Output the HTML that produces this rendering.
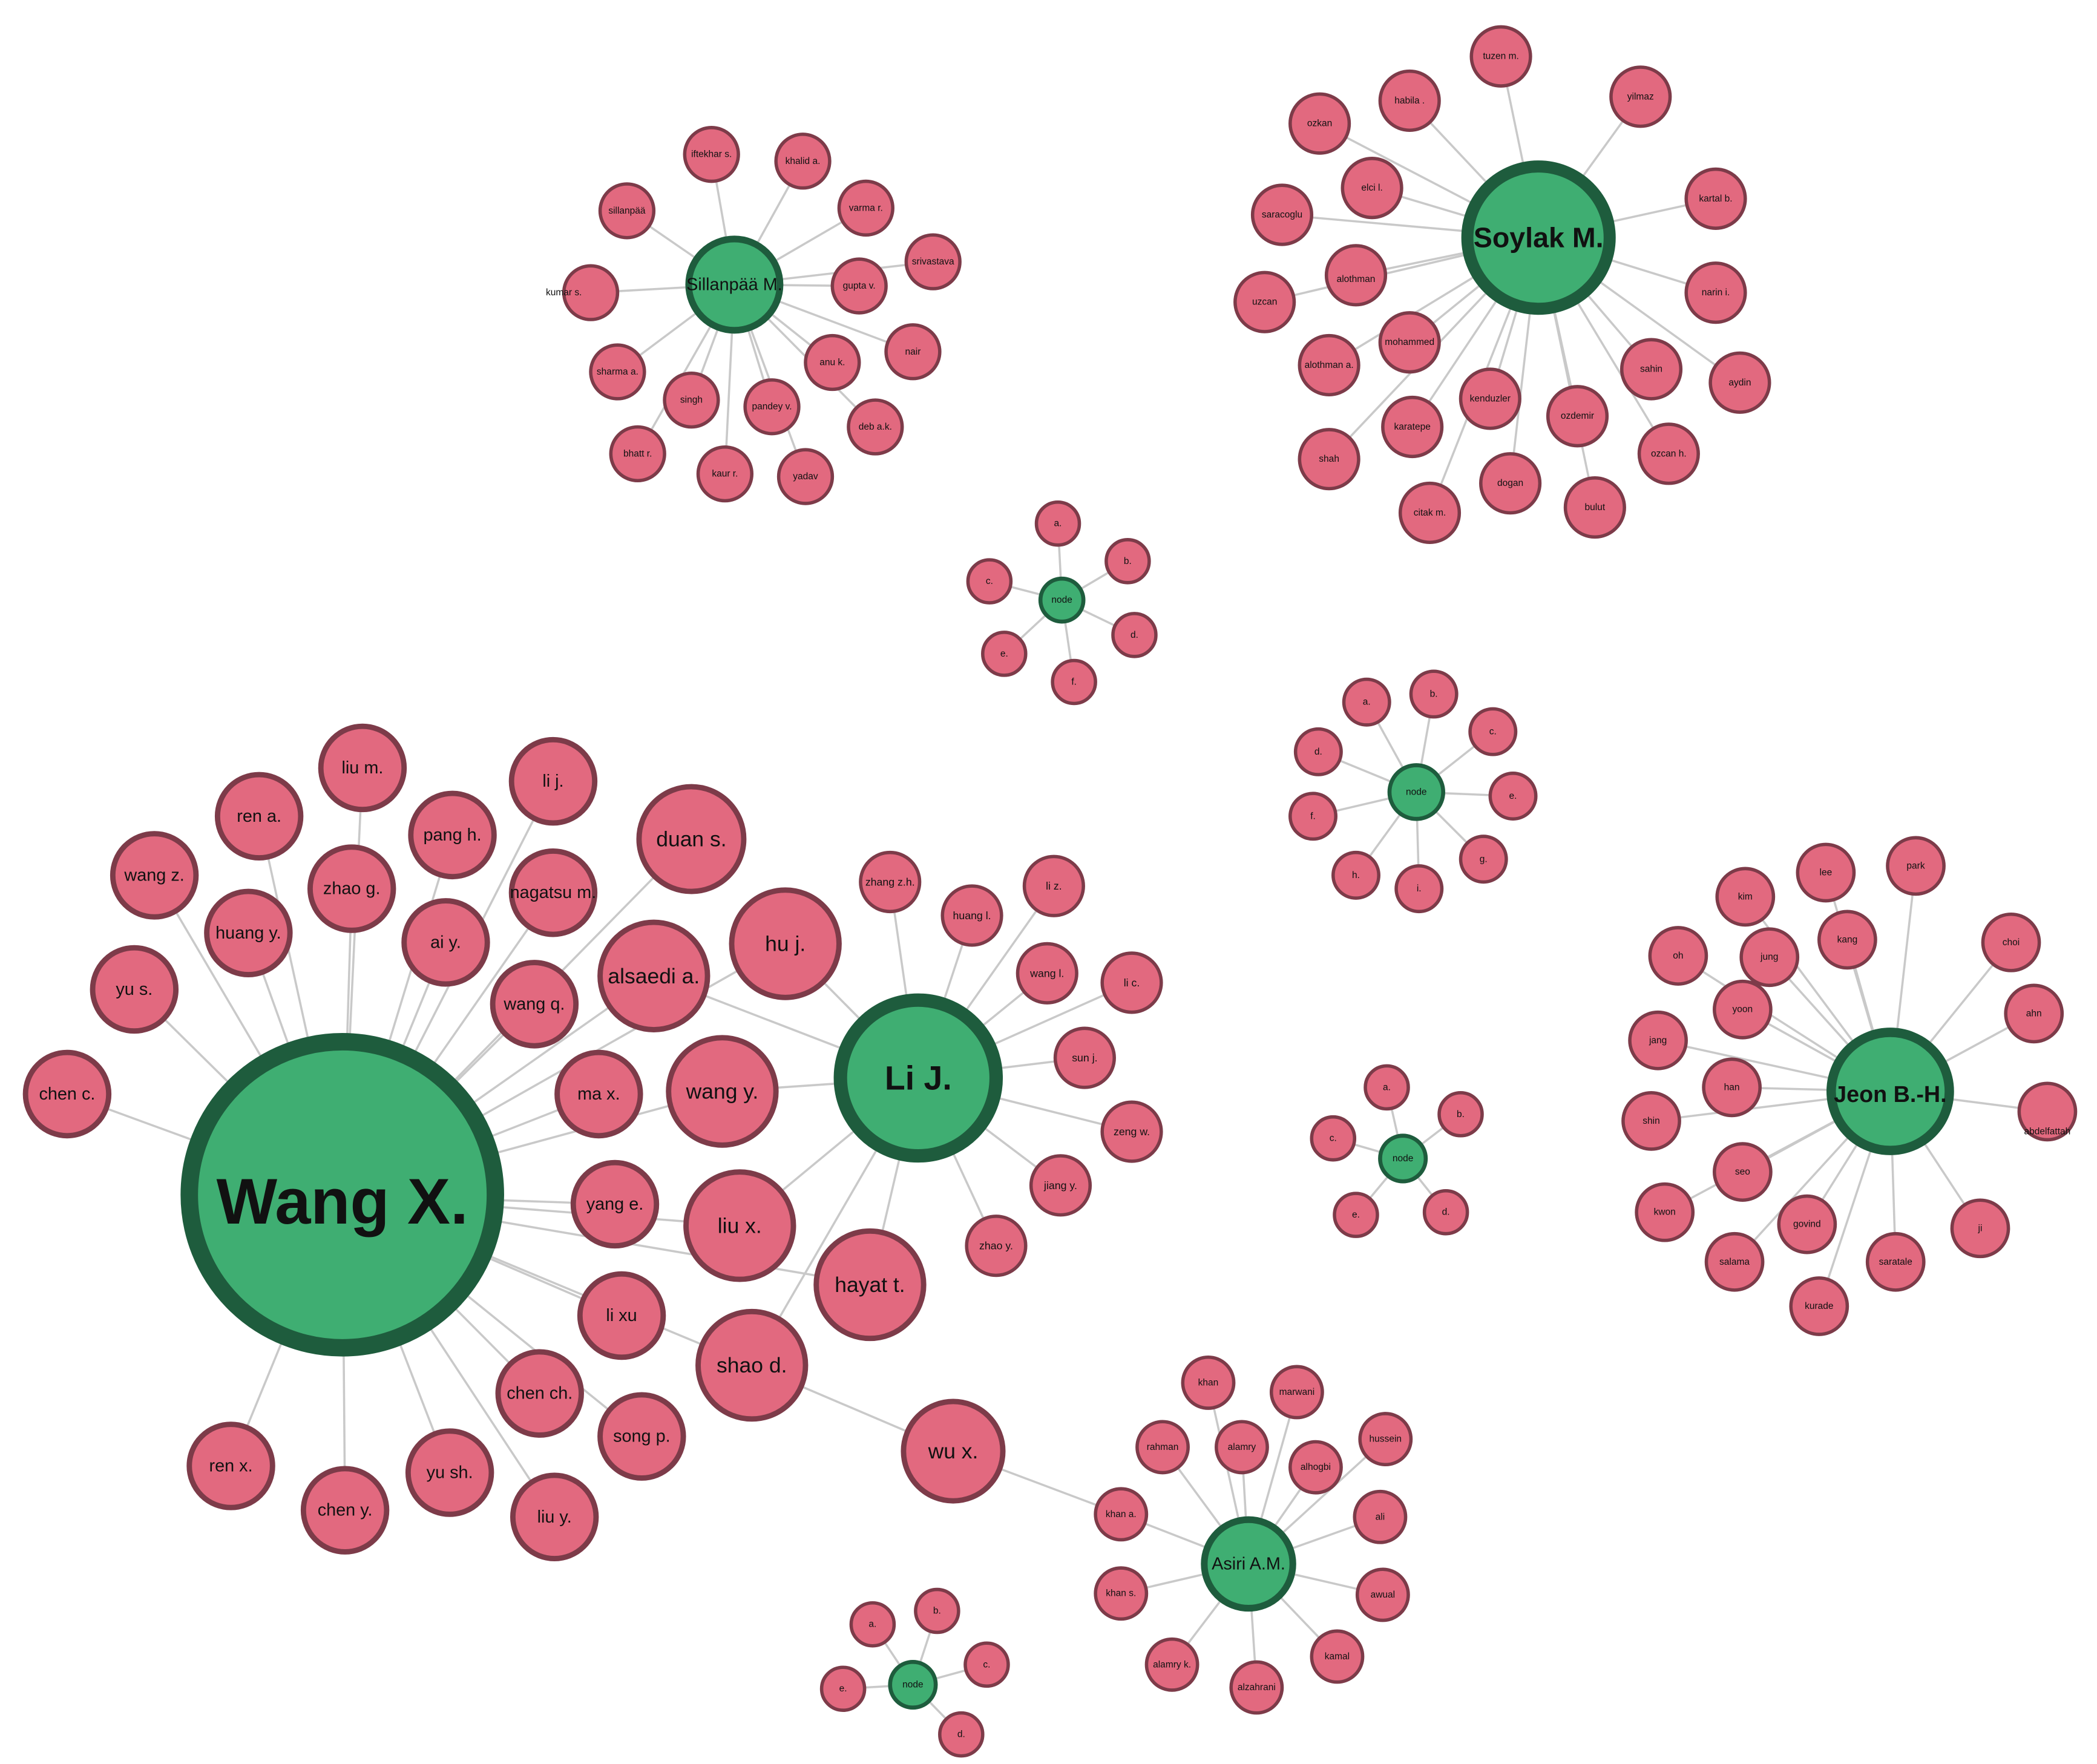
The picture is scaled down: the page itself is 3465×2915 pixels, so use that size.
<!DOCTYPE html>
<html><head><meta charset="utf-8"><style>
html,body{margin:0;padding:0;background:#fff}
svg{display:block}
text{font-family:"Liberation Sans",sans-serif;text-anchor:middle;dominant-baseline:central;fill:#111}
.e{stroke:#c9c9c9;stroke-width:1.6}
.p{fill:#e2697f;stroke:#7d3b49;stroke-width:2.5}
.P{fill:#e2697f;stroke:#7d3b49;stroke-width:4}
.g{fill:#3fae72;stroke:#1e5c3d}
.s{font-size:7px}
.m{font-size:13px}
</style></head><body>
<svg width="3465" height="2915" viewBox="0 0 1562 1314" xmlns="http://www.w3.org/2000/svg">
<g class="e">
<!-- Wang X edges -->
<line x1="255" y1="890" x2="50" y2="815"/><line x1="255" y1="890" x2="100" y2="737"/><line x1="255" y1="890" x2="115" y2="652"/><line x1="255" y1="890" x2="193" y2="608"/><line x1="255" y1="890" x2="270" y2="572"/><line x1="255" y1="890" x2="185" y2="695"/><line x1="255" y1="890" x2="262" y2="662"/><line x1="255" y1="890" x2="337" y2="622"/><line x1="255" y1="890" x2="412" y2="582"/><line x1="255" y1="890" x2="332" y2="702"/><line x1="255" y1="890" x2="412" y2="665"/><line x1="255" y1="890" x2="398" y2="748"/><line x1="255" y1="890" x2="515" y2="625"/><line x1="255" y1="890" x2="585" y2="703"/><line x1="255" y1="890" x2="487" y2="727"/><line x1="255" y1="890" x2="446" y2="815"/><line x1="255" y1="890" x2="538" y2="813"/><line x1="255" y1="890" x2="458" y2="897"/><line x1="255" y1="890" x2="551" y2="913"/><line x1="255" y1="890" x2="648" y2="957"/><line x1="255" y1="890" x2="463" y2="980"/><line x1="255" y1="890" x2="560" y2="1017"/><line x1="255" y1="890" x2="402" y2="1038"/><line x1="255" y1="890" x2="478" y2="1070"/><line x1="255" y1="890" x2="172" y2="1092"/><line x1="255" y1="890" x2="257" y2="1125"/><line x1="255" y1="890" x2="335" y2="1097"/><line x1="255" y1="890" x2="413" y2="1130"/>
<!-- Li J -->
<line x1="684" y1="803" x2="585" y2="703"/><line x1="684" y1="803" x2="487" y2="727"/><line x1="684" y1="803" x2="538" y2="813"/><line x1="684" y1="803" x2="551" y2="913"/><line x1="684" y1="803" x2="648" y2="957"/><line x1="684" y1="803" x2="560" y2="1017"/>
<line x1="684" y1="803" x2="663" y2="657"/><line x1="684" y1="803" x2="724" y2="682"/><line x1="684" y1="803" x2="785" y2="660"/><line x1="684" y1="803" x2="780" y2="725"/><line x1="684" y1="803" x2="843" y2="732"/><line x1="684" y1="803" x2="808" y2="788"/><line x1="684" y1="803" x2="843" y2="843"/><line x1="684" y1="803" x2="790" y2="883"/><line x1="684" y1="803" x2="742" y2="928"/>
<line x1="560" y1="1017" x2="710" y2="1081"/><line x1="710" y1="1081" x2="835" y2="1128"/>
<!-- Asiri -->
<line x1="930" y1="1165" x2="900" y2="1030"/><line x1="930" y1="1165" x2="966" y2="1037"/><line x1="930" y1="1165" x2="925" y2="1078"/><line x1="930" y1="1165" x2="866" y2="1078"/><line x1="930" y1="1165" x2="980" y2="1093"/><line x1="930" y1="1165" x2="1032" y2="1072"/><line x1="930" y1="1165" x2="1028" y2="1130"/><line x1="930" y1="1165" x2="1030" y2="1188"/><line x1="930" y1="1165" x2="996" y2="1234"/><line x1="930" y1="1165" x2="936" y2="1257"/><line x1="930" y1="1165" x2="873" y2="1240"/><line x1="930" y1="1165" x2="835" y2="1187"/><line x1="930" y1="1165" x2="835" y2="1128"/>
<!-- bottom small -->
<line x1="680" y1="1255" x2="650" y2="1210"/><line x1="680" y1="1255" x2="698" y2="1200"/><line x1="680" y1="1255" x2="735" y2="1240"/><line x1="680" y1="1255" x2="716" y2="1292"/><line x1="680" y1="1255" x2="628" y2="1258"/>
<!-- Sillanpaa -->
<line x1="547" y1="212" x2="530" y2="115"/><line x1="547" y1="212" x2="598" y2="120"/><line x1="547" y1="212" x2="467" y2="157"/><line x1="547" y1="212" x2="645" y2="155"/><line x1="547" y1="212" x2="695" y2="195"/><line x1="547" y1="212" x2="440" y2="218"/><line x1="547" y1="212" x2="640" y2="213"/><line x1="547" y1="212" x2="680" y2="262"/><line x1="547" y1="212" x2="460" y2="277"/><line x1="547" y1="212" x2="620" y2="270"/><line x1="547" y1="212" x2="515" y2="298"/><line x1="547" y1="212" x2="575" y2="303"/><line x1="547" y1="212" x2="652" y2="318"/><line x1="547" y1="212" x2="475" y2="338"/><line x1="547" y1="212" x2="540" y2="353"/><line x1="547" y1="212" x2="600" y2="355"/>
<!-- Soylak -->
<line x1="1146" y1="177" x2="1118" y2="42"/><line x1="1146" y1="177" x2="1222" y2="72"/><line x1="1146" y1="177" x2="1050" y2="75"/><line x1="1146" y1="177" x2="983" y2="92"/><line x1="1146" y1="177" x2="1022" y2="140"/><line x1="1146" y1="177" x2="1278" y2="148"/><line x1="1146" y1="177" x2="955" y2="160"/><line x1="1146" y1="177" x2="1278" y2="218"/><line x1="1146" y1="177" x2="942" y2="225"/><line x1="1146" y1="177" x2="1010" y2="205"/><line x1="1146" y1="177" x2="1050" y2="255"/><line x1="1146" y1="177" x2="990" y2="272"/><line x1="1146" y1="177" x2="1110" y2="297"/><line x1="1146" y1="177" x2="1175" y2="310"/><line x1="1146" y1="177" x2="1230" y2="275"/><line x1="1146" y1="177" x2="1296" y2="285"/><line x1="1146" y1="177" x2="990" y2="342"/><line x1="1146" y1="177" x2="1052" y2="318"/><line x1="1146" y1="177" x2="1125" y2="360"/><line x1="1146" y1="177" x2="1188" y2="378"/><line x1="1146" y1="177" x2="1065" y2="382"/><line x1="1146" y1="177" x2="1243" y2="338"/>
<!-- small clusters -->
<line x1="791" y1="447" x2="788" y2="390"/><line x1="791" y1="447" x2="840" y2="418"/><line x1="791" y1="447" x2="737" y2="433"/><line x1="791" y1="447" x2="845" y2="473"/><line x1="791" y1="447" x2="748" y2="487"/><line x1="791" y1="447" x2="800" y2="508"/>
<line x1="1055" y1="590" x2="1018" y2="523"/><line x1="1055" y1="590" x2="1068" y2="517"/><line x1="1055" y1="590" x2="1112" y2="545"/><line x1="1055" y1="590" x2="982" y2="560"/><line x1="1055" y1="590" x2="1127" y2="593"/><line x1="1055" y1="590" x2="978" y2="608"/><line x1="1055" y1="590" x2="1105" y2="640"/><line x1="1055" y1="590" x2="1010" y2="652"/><line x1="1055" y1="590" x2="1057" y2="662"/>
<line x1="1045" y1="863" x2="1033" y2="810"/><line x1="1045" y1="863" x2="1088" y2="830"/><line x1="1045" y1="863" x2="993" y2="848"/><line x1="1045" y1="863" x2="1077" y2="903"/><line x1="1045" y1="863" x2="1010" y2="905"/>
<!-- Jeon -->
<line x1="1408" y1="813" x2="1300" y2="668"/><line x1="1408" y1="813" x2="1360" y2="650"/><line x1="1408" y1="813" x2="1427" y2="645"/><line x1="1408" y1="813" x2="1498" y2="702"/><line x1="1408" y1="813" x2="1250" y2="712"/><line x1="1408" y1="813" x2="1318" y2="713"/><line x1="1408" y1="813" x2="1376" y2="700"/><line x1="1408" y1="813" x2="1298" y2="752"/><line x1="1408" y1="813" x2="1235" y2="775"/><line x1="1408" y1="813" x2="1290" y2="810"/><line x1="1408" y1="813" x2="1230" y2="835"/><line x1="1408" y1="813" x2="1298" y2="873"/><line x1="1408" y1="813" x2="1240" y2="903"/><line x1="1408" y1="813" x2="1346" y2="912"/><line x1="1408" y1="813" x2="1292" y2="940"/><line x1="1408" y1="813" x2="1355" y2="973"/><line x1="1408" y1="813" x2="1412" y2="940"/><line x1="1408" y1="813" x2="1475" y2="915"/><line x1="1408" y1="813" x2="1515" y2="755"/><line x1="1408" y1="813" x2="1525" y2="828"/>
</g>

<!-- Wang X cluster pink nodes -->
<g class="m">
<circle class="P" cx="50" cy="815" r="31"/><text x="50" y="815">chen c.</text>
<circle class="P" cx="100" cy="737" r="31"/><text x="100" y="737">yu s.</text>
<circle class="P" cx="115" cy="652" r="31"/><text x="115" y="652">wang z.</text>
<circle class="P" cx="193" cy="608" r="31"/><text x="193" y="608">ren a.</text>
<circle class="P" cx="270" cy="572" r="31"/><text x="270" y="572">liu m.</text>
<circle class="P" cx="185" cy="695" r="31"/><text x="185" y="695">huang y.</text>
<circle class="P" cx="262" cy="662" r="31"/><text x="262" y="662">zhao g.</text>
<circle class="P" cx="337" cy="622" r="31"/><text x="337" y="622">pang h.</text>
<circle class="P" cx="412" cy="582" r="31"/><text x="412" y="582">li j.</text>
<circle class="P" cx="332" cy="702" r="31"/><text x="332" y="702">ai y.</text>
<circle class="P" cx="412" cy="665" r="31"/><text x="412" y="665">nagatsu m.</text>
<circle class="P" cx="398" cy="748" r="31"/><text x="398" y="748">wang q.</text>
<circle class="P" cx="446" cy="815" r="31"/><text x="446" y="815">ma x.</text>
<circle class="P" cx="458" cy="897" r="31"/><text x="458" y="897">yang e.</text>
<circle class="P" cx="463" cy="980" r="31"/><text x="463" y="980">li xu</text>
<circle class="P" cx="402" cy="1038" r="31"/><text x="402" y="1038">chen ch.</text>
<circle class="P" cx="478" cy="1070" r="31"/><text x="478" y="1070">song p.</text>
<circle class="P" cx="172" cy="1092" r="31"/><text x="172" y="1092">ren x.</text>
<circle class="P" cx="257" cy="1125" r="31"/><text x="257" y="1125">chen y.</text>
<circle class="P" cx="335" cy="1097" r="31"/><text x="335" y="1097">yu sh.</text>
<circle class="P" cx="413" cy="1130" r="31"/><text x="413" y="1130">liu y.</text>
</g>
<g style="font-size:16px">
<circle class="P" cx="515" cy="625" r="39"/><text x="515" y="625">duan s.</text>
<circle class="P" cx="585" cy="703" r="40"/><text x="585" y="703">hu j.</text>
<circle class="P" cx="487" cy="727" r="40"/><text x="487" y="727">alsaedi a.</text>
<circle class="P" cx="538" cy="813" r="40"/><text x="538" y="813">wang y.</text>
<circle class="P" cx="551" cy="913" r="40"/><text x="551" y="913">liu x.</text>
<circle class="P" cx="648" cy="957" r="40"/><text x="648" y="957">hayat t.</text>
<circle class="P" cx="560" cy="1017" r="40"/><text x="560" y="1017">shao d.</text>
<circle class="P" cx="710" cy="1081" r="37"/><text x="710" y="1081">wu x.</text>
</g>
<circle class="g" cx="255" cy="890" r="114" stroke-width="13"/>
<text x="255" y="895" style="font-size:48px;font-weight:bold">Wang X.</text>
<circle class="g" cx="684" cy="803" r="58" stroke-width="10"/>
<text x="684" y="803" style="font-size:25px;font-weight:bold">Li J.</text>

<g style="font-size:8px">
<circle class="p" cx="663" cy="657" r="22"/><text x="663" y="657">zhang z.h.</text>
<circle class="p" cx="724" cy="682" r="22"/><text x="724" y="682">huang l.</text>
<circle class="p" cx="785" cy="660" r="22"/><text x="785" y="660">li z.</text>
<circle class="p" cx="780" cy="725" r="22"/><text x="780" y="725">wang l.</text>
<circle class="p" cx="843" cy="732" r="22"/><text x="843" y="732">li c.</text>
<circle class="p" cx="808" cy="788" r="22"/><text x="808" y="788">sun j.</text>
<circle class="p" cx="843" cy="843" r="22"/><text x="843" y="843">zeng w.</text>
<circle class="p" cx="790" cy="883" r="22"/><text x="790" y="883">jiang y.</text>
<circle class="p" cx="742" cy="928" r="22"/><text x="742" y="928">zhao y.</text>
</g>

<!-- Asiri -->
<g class="s">
<circle class="p" cx="900" cy="1030" r="19"/><text x="900" y="1030">khan</text>
<circle class="p" cx="966" cy="1037" r="19"/><text x="966" y="1037">marwani</text>
<circle class="p" cx="925" cy="1078" r="19"/><text x="925" y="1078">alamry</text>
<circle class="p" cx="866" cy="1078" r="19"/><text x="866" y="1078">rahman</text>
<circle class="p" cx="980" cy="1093" r="19"/><text x="980" y="1093">alhogbi</text>
<circle class="p" cx="1032" cy="1072" r="19"/><text x="1032" y="1072">hussein</text>
<circle class="p" cx="1028" cy="1130" r="19"/><text x="1028" y="1130">ali</text>
<circle class="p" cx="1030" cy="1188" r="19"/><text x="1030" y="1188">awual</text>
<circle class="p" cx="996" cy="1234" r="19"/><text x="996" y="1234">kamal</text>
<circle class="p" cx="936" cy="1257" r="19"/><text x="936" y="1257">alzahrani</text>
<circle class="p" cx="873" cy="1240" r="19"/><text x="873" y="1240">alamry k.</text>
<circle class="p" cx="835" cy="1187" r="19"/><text x="835" y="1187">khan s.</text>
<circle class="p" cx="835" cy="1128" r="19"/><text x="835" y="1128">khan a.</text>
</g>
<circle class="g" cx="930" cy="1165" r="33" stroke-width="5"/>
<text x="930" y="1165" style="font-size:13px">Asiri A.M.</text>

<!-- bottom small -->
<g class="s">
<circle class="p" cx="650" cy="1210" r="16"/><text x="650" y="1210">a.</text>
<circle class="p" cx="698" cy="1200" r="16"/><text x="698" y="1200">b.</text>
<circle class="p" cx="735" cy="1240" r="16"/><text x="735" y="1240">c.</text>
<circle class="p" cx="716" cy="1292" r="16"/><text x="716" y="1292">d.</text>
<circle class="p" cx="628" cy="1258" r="16"/><text x="628" y="1258">e.</text>
<circle class="g" cx="680" cy="1255" r="17" stroke-width="3"/><text x="680" y="1255">node</text>
</g>

<!-- Sillanpaa -->
<g class="s">
<circle class="p" cx="530" cy="115" r="20"/><text x="530" y="115">iftekhar s.</text>
<circle class="p" cx="598" cy="120" r="20"/><text x="598" y="120">khalid a.</text>
<circle class="p" cx="467" cy="157" r="20"/><text x="467" y="157">sillanpää</text>
<circle class="p" cx="645" cy="155" r="20"/><text x="645" y="155">varma r.</text>
<circle class="p" cx="695" cy="195" r="20"/><text x="695" y="195">srivastava</text>
<circle class="p" cx="440" cy="218" r="20"/><text x="420" y="218">kumar s.</text>
<circle class="p" cx="640" cy="213" r="20"/><text x="640" y="213">gupta v.</text>
<circle class="p" cx="680" cy="262" r="20"/><text x="680" y="262">nair</text>
<circle class="p" cx="460" cy="277" r="20"/><text x="460" y="277">sharma a.</text>
<circle class="p" cx="620" cy="270" r="20"/><text x="620" y="270">anu k.</text>
<circle class="p" cx="515" cy="298" r="20"/><text x="515" y="298">singh</text>
<circle class="p" cx="575" cy="303" r="20"/><text x="575" y="303">pandey v.</text>
<circle class="p" cx="652" cy="318" r="20"/><text x="652" y="318">deb a.k.</text>
<circle class="p" cx="475" cy="338" r="20"/><text x="475" y="338">bhatt r.</text>
<circle class="p" cx="540" cy="353" r="20"/><text x="540" y="353">kaur r.</text>
<circle class="p" cx="600" cy="355" r="20"/><text x="600" y="355">yadav</text>
</g>
<circle class="g" cx="547" cy="212" r="34" stroke-width="5"/>
<text x="547" y="212" style="font-size:13px">Sillanpää M.</text>

<!-- Soylak -->
<g class="s">
<circle class="p" cx="1118" cy="42" r="22"/><text x="1118" y="42">tuzen m.</text>
<circle class="p" cx="1222" cy="72" r="22"/><text x="1222" y="72">yilmaz</text>
<circle class="p" cx="1050" cy="75" r="22"/><text x="1050" y="75">habila .</text>
<circle class="p" cx="983" cy="92" r="22"/><text x="983" y="92">ozkan</text>
<circle class="p" cx="1022" cy="140" r="22"/><text x="1022" y="140">elci l.</text>
<circle class="p" cx="1278" cy="148" r="22"/><text x="1278" y="148">kartal b.</text>
<circle class="p" cx="955" cy="160" r="22"/><text x="955" y="160">saracoglu</text>
<circle class="p" cx="1278" cy="218" r="22"/><text x="1278" y="218">narin i.</text>
<circle class="p" cx="942" cy="225" r="22"/><text x="942" y="225">uzcan</text>
<circle class="p" cx="1010" cy="205" r="22"/><text x="1010" y="208">alothman</text>
<circle class="p" cx="1050" cy="255" r="22"/><text x="1050" y="255">mohammed</text>
<circle class="p" cx="990" cy="272" r="22"/><text x="990" y="272">alothman a.</text>
<circle class="p" cx="1110" cy="297" r="22"/><text x="1110" y="297">kenduzler</text>
<circle class="p" cx="1175" cy="310" r="22"/><text x="1175" y="310">ozdemir</text>
<circle class="p" cx="1230" cy="275" r="22"/><text x="1230" y="275">sahin</text>
<circle class="p" cx="1296" cy="285" r="22"/><text x="1296" y="285">aydin</text>
<circle class="p" cx="990" cy="342" r="22"/><text x="990" y="342">shah</text>
<circle class="p" cx="1052" cy="318" r="22"/><text x="1052" y="318">karatepe</text>
<circle class="p" cx="1125" cy="360" r="22"/><text x="1125" y="360">dogan</text>
<circle class="p" cx="1188" cy="378" r="22"/><text x="1188" y="378">bulut</text>
<circle class="p" cx="1065" cy="382" r="22"/><text x="1065" y="382">citak m.</text>
<circle class="p" cx="1243" cy="338" r="22"/><text x="1243" y="338">ozcan h.</text>
</g>
<circle class="g" cx="1146" cy="177" r="53" stroke-width="9"/>
<text x="1146" y="177" style="font-size:21px;font-weight:bold">Soylak M.</text>

<!-- small clusters -->
<g class="s">
<circle class="p" cx="788" cy="390" r="16"/><text x="788" y="390">a.</text>
<circle class="p" cx="840" cy="418" r="16"/><text x="840" y="418">b.</text>
<circle class="p" cx="737" cy="433" r="16"/><text x="737" y="433">c.</text>
<circle class="p" cx="845" cy="473" r="16"/><text x="845" y="473">d.</text>
<circle class="p" cx="748" cy="487" r="16"/><text x="748" y="487">e.</text>
<circle class="p" cx="800" cy="508" r="16"/><text x="800" y="508">f.</text>
<circle class="g" cx="791" cy="447" r="16" stroke-width="3"/><text x="791" y="447">node</text>

<circle class="p" cx="1018" cy="523" r="17"/><text x="1018" y="523">a.</text>
<circle class="p" cx="1068" cy="517" r="17"/><text x="1068" y="517">b.</text>
<circle class="p" cx="1112" cy="545" r="17"/><text x="1112" y="545">c.</text>
<circle class="p" cx="982" cy="560" r="17"/><text x="982" y="560">d.</text>
<circle class="p" cx="1127" cy="593" r="17"/><text x="1127" y="593">e.</text>
<circle class="p" cx="978" cy="608" r="17"/><text x="978" y="608">f.</text>
<circle class="p" cx="1105" cy="640" r="17"/><text x="1105" y="640">g.</text>
<circle class="p" cx="1010" cy="652" r="17"/><text x="1010" y="652">h.</text>
<circle class="p" cx="1057" cy="662" r="17"/><text x="1057" y="662">i.</text>
<circle class="g" cx="1055" cy="590" r="20" stroke-width="3"/><text x="1055" y="590">node</text>

<circle class="p" cx="1033" cy="810" r="16"/><text x="1033" y="810">a.</text>
<circle class="p" cx="1088" cy="830" r="16"/><text x="1088" y="830">b.</text>
<circle class="p" cx="993" cy="848" r="16"/><text x="993" y="848">c.</text>
<circle class="p" cx="1077" cy="903" r="16"/><text x="1077" y="903">d.</text>
<circle class="p" cx="1010" cy="905" r="16"/><text x="1010" y="905">e.</text>
<circle class="g" cx="1045" cy="863" r="17" stroke-width="3"/><text x="1045" y="863">node</text>
</g>

<!-- Jeon -->
<g class="s">
<circle class="p" cx="1300" cy="668" r="21"/><text x="1300" y="668">kim</text>
<circle class="p" cx="1360" cy="650" r="21"/><text x="1360" y="650">lee</text>
<circle class="p" cx="1427" cy="645" r="21"/><text x="1427" y="645">park</text>
<circle class="p" cx="1498" cy="702" r="21"/><text x="1498" y="702">choi</text>
<circle class="p" cx="1250" cy="712" r="21"/><text x="1250" y="712">oh</text>
<circle class="p" cx="1318" cy="713" r="21"/><text x="1318" y="713">jung</text>
<circle class="p" cx="1376" cy="700" r="21"/><text x="1376" y="700">kang</text>
<circle class="p" cx="1298" cy="752" r="21"/><text x="1298" y="752">yoon</text>
<circle class="p" cx="1235" cy="775" r="21"/><text x="1235" y="775">jang</text>
<circle class="p" cx="1290" cy="810" r="21"/><text x="1290" y="810">han</text>
<circle class="p" cx="1230" cy="835" r="21"/><text x="1230" y="835">shin</text>
<circle class="p" cx="1298" cy="873" r="21"/><text x="1298" y="873">seo</text>
<circle class="p" cx="1240" cy="903" r="21"/><text x="1240" y="903">kwon</text>
<circle class="p" cx="1346" cy="912" r="21"/><text x="1346" y="912">govind</text>
<circle class="p" cx="1292" cy="940" r="21"/><text x="1292" y="940">salama</text>
<circle class="p" cx="1355" cy="973" r="21"/><text x="1355" y="973">kurade</text>
<circle class="p" cx="1412" cy="940" r="21"/><text x="1412" y="940">saratale</text>
<circle class="p" cx="1475" cy="915" r="21"/><text x="1475" y="915">ji</text>
<circle class="p" cx="1515" cy="755" r="21"/><text x="1515" y="755">ahn</text>
<circle class="p" cx="1525" cy="828" r="21"/><text x="1525" y="843">abdelfattah</text>
</g>
<circle class="g" cx="1408" cy="813" r="44" stroke-width="7"/>
<text x="1408" y="815" style="font-size:17px;font-weight:bold">Jeon B.-H.</text>
</svg>
</body></html>
